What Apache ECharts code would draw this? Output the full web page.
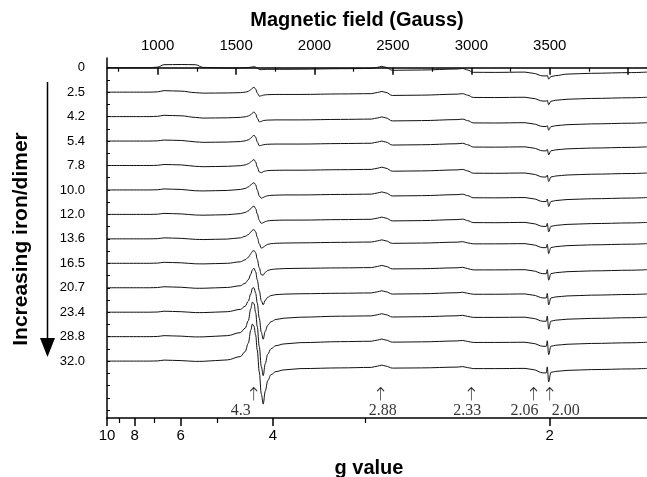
<!DOCTYPE html>
<html><head><meta charset="utf-8">
<script src="https://cdn.jsdelivr.net/npm/echarts@6/dist/echarts.min.js"></script>
<style>html,body{margin:0;padding:0;background:#fff}#c{width:647px;height:477px}</style>
</head><body><div id="c"></div>
<script>
// ---- data ----
const FIELD_MIN = 677, FIELD_MAX = 4120;   // field scan range (G), top axis
const G_LEFT = 10, G_RIGHT = 1.701;        // g range of the bottom axis (linear in 1/g)
const fieldGauss = [
  677, 950, 1000, 1040, 1150, 1240, 1290, 1444,
  1527, 1558, 1578, 1594, 1604, 1614, 1625, 1635, 1648, 1661, 1673, 1686, 1702, 1723, 1754, 1805, 1908,
  2166, 2362, 2403, 2429, 2455, 2496, 2682, 2909, 2945, 2976, 3012, 3146, 3342,
  3394, 3456, 3478, 3484, 3493, 3507, 3538, 3610, 3765, 4023, 4120
];
const traceLabels = ['0','2.5','4.2','5.4','7.8','10.0','12.0','13.6','16.5','20.7','23.4','28.8','32.0'];
const trace_0 = [0,0,0.6,3.0,3.2,3.0,0.3,-0.3,
  -0.2,0,0.2,0.5,0.8,1.0,0.6,-0.5,-1.8,-2.0,-1.8,-1.7,-1.6,-1.6,-1.6,-1.6,-1.5,
  -1.0,-0.8,0.4,1.4,0.4,-2.6,-2.3,-1.3,-0.8,-2.3,-4.6,-4.7,-4.4,
  -5.6,-8.2,-8.2,-7.6,-11.4,-8.9,-7.9,-6.4,-5.6,-4.9,-4.4];
const trace_2_5 = [0,0,0.3,1.5,1.0,-0.5,-1.0,-0.8,
  -0.5,0,0.8,2.3,4.0,5.0,3.0,-0.8,-4.0,-3.6,-3.0,-2.7,-2.5,-2.4,-2.3,-2.3,-2.3,
  -1.8,-1.5,-0.3,0.7,-0.3,-3.3,-3.0,-2.0,-1.5,-3.0,-5.3,-5.4,-5.1,
  -6.3,-8.9,-8.9,-8.1,-12.6,-9.1,-8.1,-7.1,-6.3,-5.6,-5.1];
const trace_4_2 = [0,0,0.3,1.3,0.8,-0.8,-1.5,-1.2,
  -0.8,-0.2,0.6,2.0,3.5,4.7,2.8,-1.5,-5.3,-4.8,-4.0,-3.7,-3.5,-3.4,-3.3,-3.3,-3.3,
  -2.8,-2.5,-1.3,-0.3,-1.3,-4.3,-4.0,-3.0,-2.5,-4.0,-6.3,-6.4,-6.1,
  -7.3,-9.9,-9.9,-9.1,-13.6,-10.1,-9.1,-8.1,-7.3,-6.6,-6.1];
const trace_5_4 = [0,0,0.2,1.0,0.6,-0.8,-1.3,-1.0,
  -0.5,0.2,1.2,2.8,4.6,6.0,3.8,-0.8,-4.7,-4.3,-3.7,-3.4,-3.2,-3.1,-3.0,-3.0,-3.0,
  -2.5,-2.2,-1.0,0,-1.0,-4.0,-3.7,-2.7,-2.2,-3.7,-6.0,-6.1,-5.8,
  -7.0,-9.8,-9.8,-8.3,-13.8,-9.8,-8.8,-7.8,-7.0,-6.3,-5.8];
const trace_7_8 = [0,0,0.2,1.0,0.6,-0.8,-1.2,-0.8,
  -0.2,0.6,1.8,3.5,5.0,6.0,3.5,-1.5,-6.5,-7.3,-6.2,-5.5,-5.1,-4.9,-4.8,-4.7,-4.7,
  -4.2,-3.9,-2.7,-1.7,-2.7,-5.7,-5.4,-4.4,-3.9,-5.4,-7.7,-7.8,-7.5,
  -8.7,-11.5,-11.5,-9.5,-16.0,-11.5,-10.5,-9.5,-8.7,-8.0,-7.5];
const trace_10_0 = [0,0,0.2,1.0,0.5,-0.8,-1.0,-0.5,
  0.5,1.5,3.0,5.0,6.5,7.3,5.0,0,-6.0,-8.3,-7.5,-6.5,-5.8,-5.4,-5.2,-5.0,-5.0,
  -4.5,-4.2,-3.0,-2.0,-3.0,-6.0,-5.7,-4.7,-4.2,-5.7,-7.8,-7.9,-7.6,
  -8.8,-11.6,-11.6,-9.1,-16.6,-11.6,-10.6,-9.6,-8.8,-8.1,-7.6];
const trace_12_0 = [0,0,0.2,1.0,0.5,-0.6,-0.8,-0.3,
  0.8,2.0,3.5,5.8,7.5,8.3,5.8,0.5,-6.0,-9.0,-8.3,-7.2,-6.5,-6.1,-5.9,-5.7,-5.7,
  -5.2,-4.9,-3.7,-2.7,-3.7,-6.5,-6.2,-5.2,-4.7,-6.2,-8.2,-8.3,-8.0,
  -9.2,-12.0,-12.0,-9.0,-17.5,-12.0,-11.0,-10.0,-9.2,-8.5,-8.0];
const trace_13_6 = [0,0,0.2,1.0,0.5,-0.5,-0.7,-0.2,
  1.0,2.5,4.2,6.8,8.6,9.3,7.0,1.5,-5.0,-9.3,-8.5,-6.8,-5.5,-4.8,-4.4,-4.2,-4.0,
  -3.5,-3.2,-2.0,-1.0,-2.0,-4.5,-4.2,-3.3,-2.8,-4.0,-5.0,-5.0,-4.8,
  -6.0,-8.8,-8.8,-5.3,-14.8,-8.8,-7.8,-6.8,-6.0,-5.3,-4.8];
const trace_16_5 = [0,0,0.2,1.0,0.5,-0.5,-0.6,0,
  1.5,3.5,6.0,9.5,12.0,12.8,10.5,4.0,-4.5,-11.5,-11.8,-9.0,-7.2,-6.2,-5.7,-5.3,-5.0,
  -4.6,-4.3,-3.1,-2.1,-3.1,-5.6,-5.4,-4.5,-4.0,-5.3,-6.6,-6.6,-6.4,
  -7.6,-10.4,-10.4,-6.4,-16.9,-10.4,-9.4,-8.4,-7.6,-6.9,-6.4];
const trace_20_7 = [0,0,0.2,1.0,0.5,-0.5,-0.5,0.3,
  2.0,4.5,8.0,13.5,18.0,19.5,16.0,8.0,-3.0,-13.0,-17.0,-12.5,-9.5,-7.8,-6.9,-6.4,-6.0,
  -5.5,-5.2,-4.0,-3.0,-4.0,-6.3,-6.0,-5.0,-4.5,-5.5,-6.5,-6.5,-6.2,
  -7.4,-10.2,-10.2,-5.7,-17.2,-10.2,-9.2,-8.2,-7.4,-6.7,-6.2];
const trace_23_4 = [0,0,0.2,1.0,0.5,-0.4,-0.4,0.5,
  2.8,6.0,11.0,18.5,24.0,24.5,19.0,9.0,-6.0,-20.0,-27.0,-19.0,-13.0,-9.5,-7.3,-6.0,-5.0,
  -4.0,-3.7,-2.5,-1.5,-2.5,-4.8,-4.5,-3.6,-3.1,-4.2,-5.2,-5.2,-5.0,
  -6.2,-9.0,-9.0,-4.0,-17.0,-9.0,-8.0,-7.0,-6.2,-5.5,-5.0];
const trace_28_8 = [0,0,0.2,1.0,0.5,-0.3,-0.2,1.0,
  4.0,8.5,16.0,28.0,34.5,33.0,24.0,10.0,-10.0,-30.0,-39.0,-27.0,-17.5,-12.0,-9.0,-7.3,-6.0,
  -5.0,-4.6,-3.4,-2.4,-3.4,-5.5,-5.2,-4.3,-3.8,-4.8,-5.8,-5.8,-5.6,
  -6.8,-9.6,-9.6,-4.1,-18.1,-9.6,-8.6,-7.6,-6.8,-6.1,-5.6];
const trace_32_0 = [0,0,0.2,1.0,0.5,-0.3,-0.2,1.2,
  4.5,9.5,18.0,31.0,37.0,35.0,26.0,11.0,-11.0,-33.0,-43.0,-30.0,-19.5,-13.5,-10.5,-8.8,-7.5,
  -6.8,-6.3,-5.0,-4.0,-5.0,-7.0,-6.8,-6.0,-5.5,-6.5,-7.5,-7.5,-7.3,
  -8.5,-11.8,-11.8,-5.8,-20.8,-11.3,-10.3,-9.3,-8.5,-7.8,-7.3];
const traces = [trace_0, trace_2_5, trace_4_2, trace_5_4, trace_7_8, trace_10_0, trace_12_0,
  trace_13_6, trace_16_5, trace_20_7, trace_23_4, trace_28_8, trace_32_0];
const fieldTickMajor = [1000, 1500, 2000, 2500, 3000, 3500, 4000];
const fieldTickMinor = [750, 1250, 1750, 2250, 2750, 3250, 3750];
const fieldTickLabels = [1000, 1500, 2000, 2500, 3000, 3500];
const gTickMajor = [10, 8, 6, 4, 2];
const gTickMinor = [9, 7, 5, 3];
const markerG = [4.3, 2.88, 2.33, 2.06, 2.00];
const markerText = ['4.3', '2.88', '2.33', '2.06', '2.00'];

// ---- layout / style ----
const inv = g => 1 / g;
const SPACING = 24.45;
const Y_MIN = -9.7, Y_MAX = 350.3;
const markerDx = [-13, 2, -4, -9, 16];
const FONT = '"Liberation Sans", Arial, sans-serif';

const chart = echarts.init(document.getElementById('c'), null, {renderer: 'canvas'});
const baseVals = traces.map((_, i) => i * SPACING);
const yTickVals = [];
for (let i = 0; i < traces.length * 2 + 3; i++) { const v = i * SPACING / 2; if (v <= Y_MAX) yTickVals.push(v); }

const axisLine = {show: true, lineStyle: {color: '#000', width: 1.5}};
const series = traces.map((vals, i) => ({
  type: 'line', xAxisIndex: 0, yAxisIndex: 0,
  data: fieldGauss.map((f, j) => [f, i * SPACING - vals[j]]),
  showSymbol: false, symbol: 'none', smooth: 0.35, smoothMonotone: 'x',
  lineStyle: {color: '#111', width: 1}, silent: true
}));
const arrowY = (traces.length - 1) * SPACING + 33;
series.push({
  type: 'scatter', xAxisIndex: 1, yAxisIndex: 0, silent: true,
  symbol: 'path://M4,0 L4,22 M0,6 L4,0 L8,6', symbolSize: [7, 13],
  itemStyle: {color: 'rgba(0,0,0,0)', borderColor: '#000', borderWidth: 1},
  data: markerG.map((g, k) => ({value: [inv(g), arrowY], label: {offset: [markerDx[k], 0]}})),
  label: {show: true, position: 'bottom', distance: 2, formatter: p => markerText[p.dataIndex],
    fontFamily: '"Liberation Serif", "Times New Roman", serif', fontSize: 16, color: '#000'}
});

chart.setOption({
  animation: false,
  backgroundColor: '#fff',
  grid: [
    {left: 107, right: 0, top: 58, bottom: 59},
    {left: 107, right: 0, top: 58, bottom: 59}
  ],
  xAxis: [
    {gridIndex: 0, type: 'value', position: 'top', min: FIELD_MIN, max: FIELD_MAX,
      axisLine, splitLine: {show: false},
      axisTick: {show: true, inside: true, length: 7, customValues: fieldTickMajor, lineStyle: {color: '#000', width: 1.5}},
      axisLabel: {customValues: fieldTickLabels, formatter: v => String(v), fontSize: 15, color: '#000', fontFamily: FONT, margin: 5}},
    {gridIndex: 0, type: 'value', position: 'bottom', min: inv(G_LEFT), max: inv(G_RIGHT),
      axisLine, splitLine: {show: false},
      axisTick: {show: true, inside: false, length: 8, customValues: gTickMajor.map(inv), lineStyle: {color: '#000', width: 1.5}},
      axisLabel: {customValues: gTickMajor.map(inv), formatter: v => String(Math.round(1 / v)),
        fontSize: 15, color: '#000', fontFamily: FONT, margin: 10}},
    {gridIndex: 1, type: 'value', position: 'top', min: FIELD_MIN, max: FIELD_MAX,
      axisLine: {show: false}, splitLine: {show: false}, axisLabel: {show: false},
      axisTick: {show: true, inside: true, length: 4, customValues: fieldTickMinor, lineStyle: {color: '#000', width: 1.2}}},
    {gridIndex: 1, type: 'value', position: 'bottom', min: inv(G_LEFT), max: inv(G_RIGHT),
      axisLine: {show: false}, splitLine: {show: false}, axisLabel: {show: false},
      axisTick: {show: true, inside: false, length: 5, customValues: gTickMinor.map(inv), lineStyle: {color: '#000', width: 1.2}}}
  ],
  yAxis: [
    {gridIndex: 0, type: 'value', inverse: true, min: Y_MIN, max: Y_MAX,
      axisLine, splitLine: {show: false},
      axisTick: {show: true, inside: true, length: 3, customValues: yTickVals, lineStyle: {color: '#000', width: 1}},
      axisLabel: {customValues: baseVals, formatter: v => traceLabels[Math.round(v / SPACING)],
        fontSize: 13, color: '#000', fontFamily: FONT, margin: 22, padding: [4, 0, 0, 0]}},
    {gridIndex: 1, type: 'value', show: false, min: Y_MIN, max: Y_MAX, inverse: true}
  ],
  series,
  graphic: [
    {type: 'text', x: 357, y: 20, silent: true,
      style: {text: 'Magnetic field (Gauss)', font: 'bold 20px ' + FONT, fill: '#000', align: 'center', verticalAlign: 'middle'}},
    {type: 'text', x: 369, y: 468, silent: true,
      style: {text: 'g value', font: 'bold 20px ' + FONT, fill: '#000', align: 'center', verticalAlign: 'middle'}},
    {type: 'text', x: 21, y: 239, rotation: Math.PI / 2, silent: true,
      style: {text: 'Increasing iron/dimer', font: 'bold 21px ' + FONT, fill: '#000', align: 'center', verticalAlign: 'middle'}},
    {type: 'line', silent: true, shape: {x1: 47.5, y1: 82, x2: 47.5, y2: 342}, style: {stroke: '#000', lineWidth: 1.5}},
    {type: 'polygon', silent: true, shape: {points: [[40, 338], [55, 338], [47.5, 357]]}, style: {fill: '#000'}}
  ]
});
</script></body></html>
